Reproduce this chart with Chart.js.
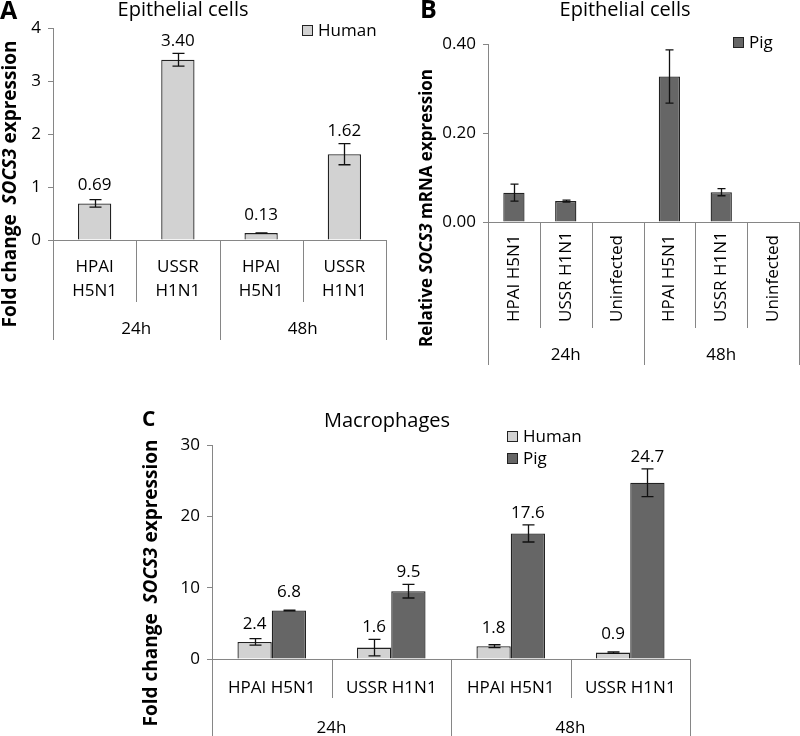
<!DOCTYPE html>
<html>
<head>
<meta charset="utf-8">
<script src="https://cdn.jsdelivr.net/npm/chart.js@4/dist/chart.umd.min.js"></script>
<style>
  body { margin: 0; background: #fff; overflow: hidden; }
  canvas { position: absolute; left: 0; top: 0; }
</style>
</head>
<body>
<canvas id="panelA" width="800" height="736"></canvas>
<canvas id="panelB" width="800" height="736"></canvas>
<canvas id="panelC" width="800" height="736"></canvas>
<script>
// --- data ---
const groups = ['24h', '48h'];

// A: epithelial cells, human
const aCats = [['HPAI', 'H5N1'], ['USSR', 'H1N1'], ['HPAI', 'H5N1'], ['USSR', 'H1N1']];
const aHuman = [0.69, 3.40, 0.13, 1.62];
const aHumanErr = [0.07, 0.12, 0.005, 0.2];

// B: epithelial cells, pig
const bCats = ['HPAI H5N1', 'USSR H1N1', 'Uninfected', 'HPAI H5N1', 'USSR H1N1', 'Uninfected'];
const bPig = [0.066, 0.047, 0, 0.327, 0.067, 0];
const bPigErr = [0.019, 0.002, 0, 0.06, 0.008, 0];

// C: macrophages, human + pig
const cCats = ['HPAI H5N1', 'USSR H1N1', 'HPAI H5N1', 'USSR H1N1'];
const cHuman = [2.4, 1.6, 1.8, 0.9];
const cHumanErr = [0.45, 1.15, 0.2, 0.1];
const cPig = [6.8, 9.5, 17.6, 24.7];
const cPigErr = [0.05, 0.95, 1.2, 1.95];

const FONT = '"Open Sans", "Noto Sans", sans-serif';
const AXIS = '#868686';
const EDGE = '#222222';
const LIGHT = '#d2d2d2';
const DARK = '#666666';

function drawErrors(chart, p) {
  const c = chart.ctx, ys = chart.scales.y;
  c.save();
  chart.data.datasets.forEach((ds, d) => {
    const meta = chart.getDatasetMeta(d);
    const err = p.series[d].err;
    meta.data.forEach((bar, i) => {
      const v = ds.data[i];
      if (!v) return;
      const top = ys.getPixelForValue(v + err[i]);
      const bot = ys.getPixelForValue(v - err[i]);
      const x = Math.round(bar.x) + 0.5;
      c.strokeStyle = '#111';
      c.lineWidth = 1.3;
      c.beginPath();
      c.moveTo(x, top); c.lineTo(x, bot);
      c.moveTo(x - p.cap, top); c.lineTo(x + p.cap, top);
      c.moveTo(x - p.cap, bot); c.lineTo(x + p.cap, bot);
      c.stroke();
      if (p.labelDec !== null) {
        const y = Math.min(bar.y - 18, top - 12);
        c.fillStyle = '#000';
        c.font = `17px ${FONT}`;
        c.textAlign = 'center';
        c.textBaseline = 'middle';
        c.fillText(v.toFixed(p.labelDec), bar.x, y);
      }
    });
  });
  c.restore();
}

function drawFrame(chart, p) {
  const c = chart.ctx, xs = chart.scales.x, a = chart.chartArea;
  const n = p.cats.length, g = n / groups.length;
  c.save();
  c.strokeStyle = AXIS;
  c.lineWidth = 1;
  c.beginPath();
  for (let i = 0; i <= n; i++) {
    const x = Math.round(xs.getPixelForValue(i - 0.5)) + 0.5;
    c.moveTo(x, a.bottom);
    c.lineTo(x, i % g === 0 ? p.outerEnd : p.innerEnd);
  }
  c.stroke();

  c.fillStyle = '#000';
  c.font = `17px ${FONT}`;
  p.cats.forEach((cat, i) => {
    const x = xs.getPixelForValue(i);
    if (p.rotate) {
      c.save();
      c.translate(x, p.catY);
      c.rotate(-Math.PI / 2);
      c.textAlign = 'left';
      c.textBaseline = 'middle';
      c.fillText(cat, 0, 0);
      c.restore();
    } else {
      const lines = Array.isArray(cat) ? cat : [cat];
      c.textAlign = 'center';
      c.textBaseline = 'alphabetic';
      lines.forEach((t, k) => c.fillText(t, x, p.catY + k * 24));
    }
  });
  c.textAlign = 'center';
  c.textBaseline = 'alphabetic';
  groups.forEach((gl, j) => {
    const x = (xs.getPixelForValue(j * g - 0.5) + xs.getPixelForValue((j + 1) * g - 0.5)) / 2;
    c.fillText(gl, x, p.groupY);
  });

  // title and panel letter
  c.font = `20px ${FONT}`;
  c.fillText(p.title, p.titleX, p.titleY);
  c.textAlign = 'left';
  c.font = `bold ${p.letterSize}px ${FONT}`;
  c.fillText(p.letter, p.letterX, p.letterY);

  // y axis title with italic gene name
  c.save();
  c.translate(p.yTitleX, p.yTitleY);
  c.rotate(-Math.PI / 2);
  c.textBaseline = 'middle';
  const fonts = p.yTitle.map(([t, it]) => `${it ? 'italic ' : ''}bold ${p.yTitleSize}px ${FONT}`);
  const widths = p.yTitle.map(([t], k) => { c.font = fonts[k]; return c.measureText(t).width; });
  let tx = -widths.reduce((s, w) => s + w, 0) / 2;
  p.yTitle.forEach(([t], k) => { c.font = fonts[k]; c.fillText(t, tx, 0); tx += widths[k]; });
  c.restore();

  // legend
  c.font = `17px ${FONT}`;
  c.textBaseline = 'middle';
  p.series.forEach((s, k) => {
    const y = p.legendY + k * 22;
    c.fillStyle = s.color;
    c.fillRect(p.legendX, y, 11, 11);
    c.strokeStyle = EDGE;
    c.strokeRect(p.legendX + 0.5, y + 0.5, 10, 10);
    c.fillStyle = '#000';
    c.fillText(s.name, p.legendX + 16, y + 6);
  });
  c.restore();
}

function makePanel(id, p) {
  const plugin = {
    id: 'decor' + id,
    afterDatasetsDraw(chart) { drawErrors(chart, p); },
    afterDraw(chart) { drawFrame(chart, p); }
  };
  return new Chart(document.getElementById(id).getContext('2d'), {
    type: 'bar',
    data: {
      labels: p.cats.map(cat => Array.isArray(cat) ? cat.join(' ') : cat),
      datasets: p.series.map(s => ({
        label: s.name,
        data: s.values,
        backgroundColor: s.color,
        borderColor: EDGE,
        borderWidth: ctx => ctx.raw ? 1.3 : 0,
        borderSkipped: 'bottom',
        categoryPercentage: p.catPct,
        barPercentage: p.barPct
      }))
    },
    options: {
      responsive: false,
      animation: false,
      events: [],
      layout: { padding: { left: 0, top: p.area.top, right: 800 - p.area.right, bottom: 736 - p.area.bottom } },
      plugins: { legend: { display: false }, tooltip: { enabled: false } },
      scales: {
        x: {
          ticks: { display: false },
          grid: { display: false },
          border: { color: AXIS, width: 1 },
          afterFit: s => { s.height = 0; }
        },
        y: {
          min: 0,
          max: p.yMax,
          ticks: { stepSize: p.yStep, color: '#000', padding: 7, font: { family: FONT, size: 17 },
                   callback: v => v.toFixed(p.yDec) },
          grid: { drawOnChartArea: false, color: AXIS, tickLength: 5 },
          border: { color: AXIS, width: 1 },
          afterFit: s => { s.width = p.area.left; }
        }
      }
    },
    plugins: [plugin]
  });
}

window.onload = () => {
  makePanel('panelA', {
    area: { left: 53, top: 28, right: 386, bottom: 240 },
    yMax: 4, yStep: 1, yDec: 0,
    cats: aCats, rotate: false, catY: 272, groupY: 334, innerEnd: 302, outerEnd: 340,
    series: [{ name: 'Human', values: aHuman, err: aHumanErr, color: LIGHT }],
    catPct: 1, barPct: 0.4, cap: 6, labelDec: 2,
    title: 'Epithelial cells', titleX: 183, titleY: 16,
    letter: 'A', letterX: 0, letterY: 19, letterSize: 25,
    yTitle: [['Fold change  ', false], ['SOCS3', true], [' expression', false]],
    yTitleX: 11, yTitleY: 184, yTitleSize: 19,
    legendX: 302, legendY: 25
  });
  makePanel('panelB', {
    area: { left: 488, top: 44, right: 799, bottom: 222 },
    yMax: 0.4, yStep: 0.2, yDec: 2,
    cats: bCats, rotate: true, catY: 322, groupY: 360, innerEnd: 328, outerEnd: 365,
    series: [{ name: 'Pig', values: bPig, err: bPigErr, color: DARK }],
    catPct: 1, barPct: 0.41, cap: 4, labelDec: null,
    title: 'Epithelial cells', titleX: 625, titleY: 16,
    letter: 'B', letterX: 420, letterY: 18, letterSize: 25,
    yTitle: [['Relative ', false], ['SOCS3', true], [' mRNA expression', false]],
    yTitleX: 427, yTitleY: 208, yTitleSize: 17,
    legendX: 733, legendY: 37
  });
  makePanel('panelC', {
    area: { left: 212, top: 445, right: 690, bottom: 659 },
    yMax: 30, yStep: 10, yDec: 0,
    cats: cCats, rotate: false, catY: 693, groupY: 733, innerEnd: 698, outerEnd: 736,
    series: [
      { name: 'Human', values: cHuman, err: cHumanErr, color: LIGHT },
      { name: 'Pig', values: cPig, err: cPigErr, color: DARK }
    ],
    catPct: 0.574, barPct: 1, cap: 6, labelDec: 1,
    title: 'Macrophages', titleX: 387, titleY: 427,
    letter: 'C', letterX: 142, letterY: 426, letterSize: 21,
    yTitle: [['Fold change  ', false], ['SOCS3', true], [' expression', false]],
    yTitleX: 152, yTitleY: 583, yTitleSize: 19,
    legendX: 507, legendY: 431
  });
};
</script>
</body>
</html>
